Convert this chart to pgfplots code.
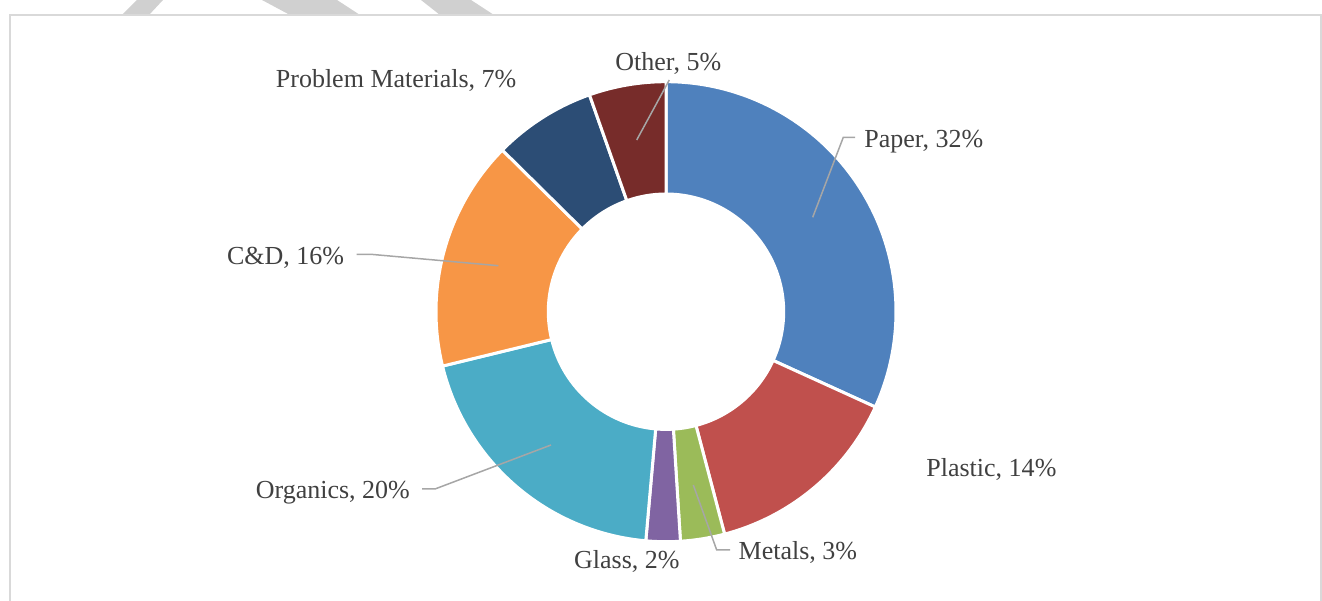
\documentclass[border=0pt]{standalone}
\usepackage{fontspec}
\setmainfont{Liberation Serif}
\usepackage{pgfplots}
\pgfplotsset{compat=1.18}
\definecolor{cPaper}{HTML}{4F81BD}
\definecolor{cPlastic}{HTML}{C0504D}
\definecolor{cMetals}{HTML}{9BBB59}
\definecolor{cGlass}{HTML}{8064A2}
\definecolor{cOrganics}{HTML}{4BACC6}
\definecolor{cCD}{HTML}{F79646}
\definecolor{cProblem}{HTML}{2C4D75}
\definecolor{cOther}{HTML}{772C2A}
\definecolor{txt}{HTML}{404040}
\definecolor{lead}{HTML}{A6A6A6}
\definecolor{frame}{HTML}{D9D9D9}
\definecolor{wm}{HTML}{D0D0D0}
\def\splititem#1/#2\relax{\def\v{#1}\def\c{#2}}
\begin{document}
\begin{tikzpicture}
\useasboundingbox (0,0) rectangle (661bp,300.5bp);
\begin{axis}[
  at={(0,0)}, anchor=south west,
  scale only axis, width=661bp, height=300.5bp,
  xmin=0, xmax=1322, ymin=0, ymax=601,
  hide axis, clip=false,
]
% watermark fragments
\fill[wm] (axis cs:122,586) -- (axis cs:149,586) -- (axis cs:163,601) -- (axis cs:137,601) -- cycle;
\fill[wm] (axis cs:262,601) -- (axis cs:337,601) -- (axis cs:360,586) -- (axis cs:290,586) -- cycle;
\fill[wm] (axis cs:421,601) -- (axis cs:471,601) -- (axis cs:494,586) -- (axis cs:440,586) -- cycle;
% frame
\draw[frame, line width=1bp] (axis cs:10,0) -- (axis cs:10,586) -- (axis cs:1321,586) -- (axis cs:1321,0);
% donut slices (percent)
\def\cum{0}
\pgfplotsforeachungrouped \item in {31.8/cPaper,14.1/cPlastic,3.1/cMetals,2.4/cGlass,19.8/cOrganics,16.2/cCD,7.2/cProblem,5.4/cOther}{%
  \expandafter\splititem\item\relax
  \pgfmathsetmacro\aone{90-3.6*\cum}%
  \pgfmathsetmacro\cum{\cum+\v}%
  \pgfmathsetmacro\atwo{90-3.6*\cum}%
  \edef\temp{\noexpand\fill[\c, draw=white, line width=1.5bp, line join=miter]
    ([shift={(\aone:115bp)}]axis cs:666,289.3) arc[start angle=\aone, end angle=\atwo, radius=115bp]
    -- ([shift={(\atwo:58.85bp)}]axis cs:666,289.3) arc[start angle=\atwo, end angle=\aone, radius=58.85bp] -- cycle;}%
  \temp
}
% leader lines
\draw[lead, line width=0.75bp] (axis cs:855,463.7) -- (axis cs:843.3,463.7) -- (axis cs:812.7,383.7);
\draw[lead, line width=0.75bp] (axis cs:669.3,521) -- (axis cs:636.7,461);
\draw[lead, line width=0.75bp] (axis cs:356.7,346.7) -- (axis cs:373,346.5) -- (axis cs:498.3,335.3);
\draw[lead, line width=0.75bp] (axis cs:422,112) -- (axis cs:435,112) -- (axis cs:551,156);
\draw[lead, line width=0.75bp] (axis cs:730,51) -- (axis cs:716.7,51) -- (axis cs:693.3,116);
% labels
\tikzset{lbl/.style={anchor=base west, inner sep=0pt, text=txt, font=\fontsize{13bp}{15bp}\selectfont}}
\node[lbl] at (axis cs:864,453.7) {Paper, 32\%};
\node[lbl] at (axis cs:926,124.3) {Plastic, 14\%};
\node[lbl] at (axis cs:738.3,41.7) {Metals, 3\%};
\node[lbl] at (axis cs:573.7,33) {Glass, 2\%};
\node[lbl] at (axis cs:255.4,102) {Organics, 20\%};
\node[lbl] at (axis cs:226.7,336) {C\&D, 16\%};
\node[lbl] at (axis cs:275.5,513) {Problem Materials, 7\%};
\node[lbl] at (axis cs:615,530) {Other, 5\%};
\end{axis}
\end{tikzpicture}
\end{document}
